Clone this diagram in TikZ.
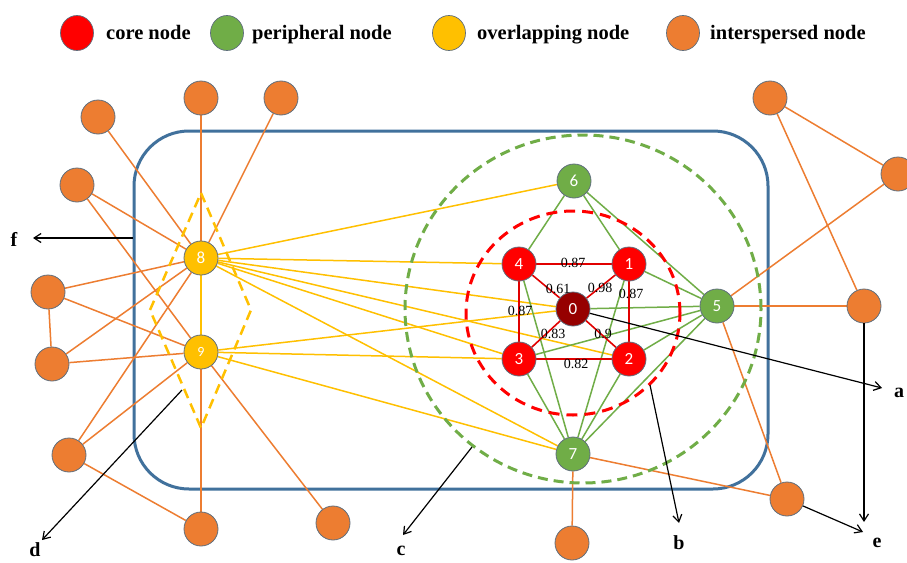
\documentclass[tikz,border=0pt]{standalone}
\usepackage{fontspec}
\setmainfont{Liberation Serif}
\newfontfamily\numfont{Carlito}
\usetikzlibrary{arrows.meta,backgrounds,shapes.geometric}
\definecolor{cred}{RGB}{255,0,0}
\definecolor{credge}{RGB}{225,0,0}
\definecolor{cdred}{RGB}{150,0,0}
\definecolor{cgreen}{RGB}{112,173,71}
\definecolor{cyellow}{RGB}{255,192,0}
\definecolor{corange}{RGB}{237,125,49}
\definecolor{cblue}{RGB}{65,113,156}
\definecolor{cborder}{RGB}{95,110,125}
\begin{document}
\begin{tikzpicture}[x=1pt,y=-1pt,
  vtx/.style={circle,minimum size=34pt,inner sep=0pt,draw=cborder,line width=0.8pt,
    font=\numfont\fontsize{17}{17}\selectfont,text=white},
  corev/.style={vtx,fill=cred},
  centerv/.style={vtx,fill=cdred},
  periv/.style={vtx,fill=cgreen},
  overv/.style={vtx,fill=cyellow},
  interv/.style={vtx,fill=corange},
  legv/.style={ellipse,minimum width=33pt,minimum height=35pt,inner sep=0pt,draw=cborder,line width=0.7pt},
  legt/.style={anchor=base west,inner sep=0pt,font=\bfseries\fontsize{20.5}{20.5}\selectfont},
  wt/.style={font=\fontsize{14}{14}\selectfont,inner sep=0pt},
  lab/.style={font=\bfseries\fontsize{20}{20}\selectfont,inner sep=0pt},
  ecore/.style={draw=credge,line width=1.6pt},
  eperi/.style={draw=cgreen,line width=1.5pt},
  eover/.style={draw=cyellow,line width=1.5pt},
  einter/.style={draw=corange,line width=1.5pt},
  pointer/.style={draw=black,line width=1.2pt,-{Straight Barb[length=7pt,width=9pt]}}
]
\useasboundingbox (0,0) rectangle (907,562);

% legend
\node[legv,fill=cred] (lg1) at (77,33) {};
\node[legt] (lt1) at (106,39) {core node};
\node[legv,fill=cgreen] (lg2) at (227,33) {};
\node[legt] (lt2) at (252,39) {peripheral node};
\node[legv,fill=cyellow] (lg3) at (449,33) {};
\node[legt] (lt3) at (477,39) {overlapping node};
\node[legv,fill=corange] (lg4) at (683,33) {};
\node[legt] (lt4) at (710,39) {interspersed node};

% core and peripheral nodes
\node[centerv] (n0) at (573,309) {0};
\node[corev] (n1) at (629,264) {1};
\node[corev] (n2) at (629,359) {2};
\node[corev] (n3) at (519,359) {3};
\node[corev] (n4) at (519,264) {4};
\node[periv] (n5) at (717,306) {5};
\node[periv] (n6) at (574,181) {6};
\node[periv] (n7) at (573,454) {7};
\node[overv] (n8) at (201,258) {8};
\node[overv,font=\numfont\fontsize{14}{14}\selectfont] (n9) at (201,352) {9};

% interspersed nodes
\node[interv] (oA) at (98,117) {};
\node[interv] (oB) at (201,98) {};
\node[interv] (oC) at (281,98) {};
\node[interv] (oD) at (77,185) {};
\node[interv] (oE) at (48,292) {};
\node[interv] (oF) at (52,364) {};
\node[interv] (oG) at (69,455) {};
\node[interv] (oH) at (201,529) {};
\node[interv] (oI) at (333,523) {};
\node[interv] (oJ) at (770,98) {};
\node[interv] (oK) at (898,174) {};
\node[interv] (oL) at (864,306) {};
\node[interv] (oM) at (787,499) {};
\node[interv] (oN) at (572,543) {};

\begin{scope}[on background layer]
  \fill[white] (0,0) rectangle (907,562);
  \draw[cblue,line width=3pt,rounded corners=55pt] (134,131) rectangle (768,489);
  % orange edges
  \foreach \a/\b in {oA/n8,oB/n8,oC/n8,oD/n8,oD/n9,oE/n8,oE/n9,oE/oF,oF/n8,oF/n9,oG/n8,oG/n9,oG/oH,n9/oH,n9/oI,oJ/oK,oJ/oL,oK/n5,n5/oL,n5/oM,n7/oM,n7/oN}
    \path[einter] (\a) -- (\b);
  % yellow edges
  \foreach \a/\b in {n8/n9,n8/n6,n8/n4,n8/n0,n8/n2,n8/n3,n8/n7,n9/n0,n9/n3,n9/n7}
    \path[eover] (\a) -- (\b);
  % green edges
  \foreach \a/\b in {n6/n4,n6/n1,n6/n5,n1/n5,n0/n5,n3/n5,n2/n5,n5/n7,n2/n7,n1/n7,n4/n7,n3/n7}
    \path[eperi] (\a) -- (\b);
  % core edges
  \foreach \a/\b in {n4/n1,n1/n2,n2/n3,n3/n4,n0/n1,n0/n2,n0/n3,n0/n4}
    \path[ecore] (\a) -- (\b);
  \draw[cgreen,line width=3pt,dash pattern=on 10pt off 6pt] (583,309) ellipse [x radius=178pt,y radius=174pt];
  \draw[cred,line width=3pt,dash pattern=on 11pt off 7pt] (573,313) ellipse [x radius=107pt,y radius=102pt];
  \draw[cyellow,line width=2.5pt,dash pattern=on 10pt off 6pt] (201,193) -- (251,310) -- (201,428) -- (150,310) -- cycle;
\end{scope}

% weights
\node[wt] (w1) at (573,263) {0.87};
\node[wt] (w2) at (558,289) {0.61};
\node[wt] (w3) at (600,288) {0.98};
\node[wt] (w4) at (631,294) {0.87};
\node[wt] (w5) at (520,311) {0.87};
\node[wt] (w6) at (553,334) {0.83};
\node[wt] (w7) at (603,334) {0.9};
\node[wt] (w8) at (576,364) {0.82};

% pointer arrows
\coordinate (fs) at (133,238);
\coordinate (fe) at (33,238);
\coordinate (ae) at (882,388);
\coordinate (bs) at (650,385);
\coordinate (be) at (679,523);
\coordinate (cs) at (472,447);
\coordinate (ce) at (403,535);
\coordinate (ds) at (182,390);
\coordinate (de) at (42,540);
\coordinate (e1) at (864,522);
\coordinate (e2) at (863,532);
\path[pointer] (fs) -- (fe);
\path[pointer] (n0) -- (ae);
\path[pointer] (bs) -- (be);
\path[pointer] (cs) -- (ce);
\path[pointer] (ds) -- (de);
\path[pointer] (oL) -- (e1);
\path[pointer] (oM) -- (e2);

\node[lab] (lf) at (14,239) {f};
\node[lab] (la) at (899,393) {a};
\node[lab] (lb) at (679,543) {b};
\node[lab] (lc) at (401,551) {c};
\node[lab] (ld) at (35,550) {d};
\node[lab] (le) at (877,543) {e};
\end{tikzpicture}
\end{document}
